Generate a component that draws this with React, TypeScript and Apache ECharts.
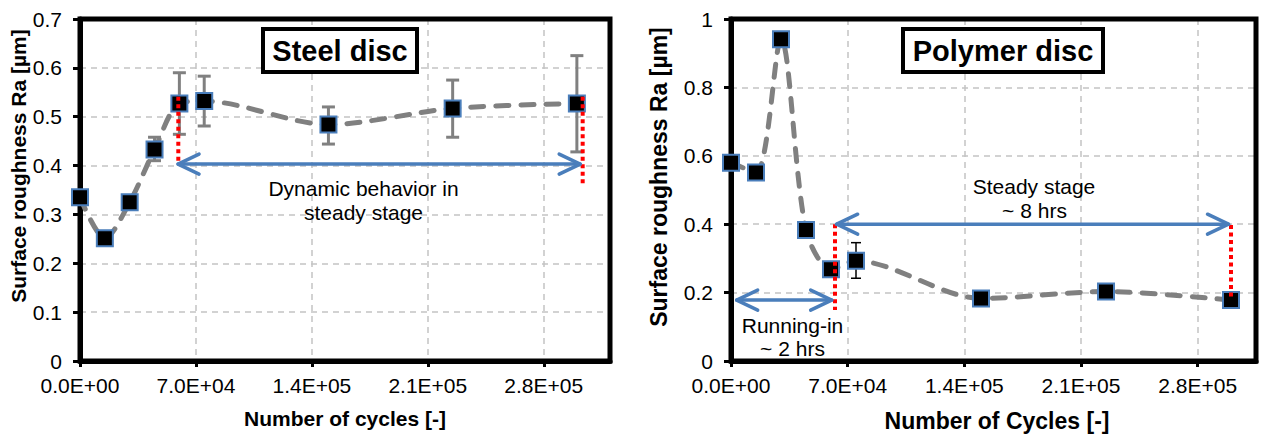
import React, { useEffect, useRef } from "react";
import * as echarts from "echarts";

const FONT = "'Liberation Sans', Arial, sans-serif";

// ---- data ----
const cycles = [0, 15000, 30000, 45000, 60000, 75000, 150000, 225000, 300000];
const steelRa = [0.335, 0.251, 0.325, 0.433, 0.527, 0.532, 0.484, 0.517, 0.527];
// [cycles, low, high]
const steelErr = [
  [45000, 0.41, 0.458],
  [60000, 0.464, 0.59],
  [75000, 0.481, 0.583],
  [150000, 0.444, 0.52],
  [225000, 0.458, 0.575],
  [300000, 0.428, 0.625],
];
const polymerRa = [0.58, 0.551, 0.941, 0.383, 0.268, 0.293, 0.183, 0.203, 0.178];
const polymerErr = [[75000, 0.242, 0.346]];

// red dotted markers: [cycles, yTop, yBottom]
const steelDotted = [
  [59350, 0.541, 0.405],
  [303500, 0.541, 0.357],
];
const polymerDotted = [
  [62400, 0.4, 0.149],
  [300000, 0.398, 0.178],
];
// double arrows: [fromCycles, toCycles, y]
const steelArrows = [[59200, 302000, 0.403]];
const polymerArrows = [
  [63400, 298500, 0.4],
  [3400, 60400, 0.178],
];

const xStep = 70000;
const steelYMax = 0.7;
const steelYStep = 0.1;
const polymerYMax = 1;
const polymerYStep = 0.2;
const steelXMax = 320000;
const polymerXMax = 315000;

const sci = (v: number) => {
  if (v === 0) return "0.0E+00";
  const e = Math.floor(Math.log10(v) + 1e-9);
  const m = v / Math.pow(10, e);
  return m.toFixed(1) + "E+" + String(e).padStart(2, "0");
};

const errRender = (color: string, lw: number, cap: number) => (params: any, api: any) => {
  const x = api.value(0);
  const lo = api.value(1);
  const hi = api.value(2);
  const a = api.coord([x, hi]);
  const b = api.coord([x, lo]);
  const hw = cap / 2;
  const style = { stroke: color, lineWidth: lw, fill: "none" };
  return {
    type: "group",
    children: [
      { type: "line", shape: { x1: a[0], y1: a[1], x2: b[0], y2: b[1] }, style },
      { type: "line", shape: { x1: a[0] - hw, y1: a[1], x2: a[0] + hw, y2: a[1] }, style },
      { type: "line", shape: { x1: b[0] - hw, y1: b[1], x2: b[0] + hw, y2: b[1] }, style },
    ],
  };
};

const dottedRender = (params: any, api: any) => {
  const x = api.value(0);
  const a = api.coord([x, api.value(1)]);
  const b = api.coord([x, api.value(2)]);
  return {
    type: "line",
    shape: { x1: a[0], y1: a[1], x2: b[0], y2: b[1] },
    style: { stroke: "#ff0000", lineWidth: 4, lineDash: [4, 3.5], fill: "none" },
  };
};

const arrowRender = (params: any, api: any) => {
  const y = api.value(2);
  const a = api.coord([api.value(0), y]);
  const b = api.coord([api.value(1), y]);
  const L = 21;
  const H = 10;
  const style = {
    stroke: "#4a7ebb",
    lineWidth: 3.5,
    fill: "none",
    lineCap: "round",
    lineJoin: "round",
  };
  return {
    type: "group",
    children: [
      { type: "line", shape: { x1: a[0], y1: a[1], x2: b[0], y2: b[1] }, style },
      {
        type: "polyline",
        shape: { points: [[a[0] + L, a[1] - H], [a[0], a[1]], [a[0] + L, a[1] + H]] },
        style,
      },
      {
        type: "polyline",
        shape: { points: [[b[0] - L, b[1] - H], [b[0], b[1]], [b[0] - L, b[1] + H]] },
        style,
      },
    ],
  };
};

const makeX = (gridIndex: number, max: number) => ({
  type: "value",
  gridIndex,
  min: 0,
  max,
  interval: xStep,
  axisLine: { show: true, onZero: false, lineStyle: { color: "#000", width: 5 } },
  axisTick: { show: true, length: 6, lineStyle: { color: "#000", width: 3 } },
  axisLabel: {
    showMaxLabel: false,
    formatter: (v: number) => (Math.abs(v % xStep) < 1e-6 ? sci(v) : ""),
    color: "#000",
    fontFamily: FONT,
    fontSize: 21,
    margin: 14,
  },
  splitLine: { show: true, lineStyle: { color: "#c3c3c3", width: 1.5, type: [6, 5] } },
});

const makeY = (gridIndex: number, max: number, step: number) => ({
  type: "value",
  gridIndex,
  min: 0,
  max,
  interval: step,
  axisLine: { show: true, lineStyle: { color: "#000", width: 5 } },
  axisTick: { show: true, length: 7, lineStyle: { color: "#000", width: 3 } },
  axisLabel: { color: "#000", fontFamily: FONT, fontSize: 21, margin: 18 },
  splitLine: { show: true, lineStyle: { color: "#c3c3c3", width: 1.5, type: [6, 5] } },
});

const lineSeries = (idx: number, ys: number[]) => ({
  type: "line",
  xAxisIndex: idx,
  yAxisIndex: idx,
  data: cycles.map((c, i) => [c, ys[i]]),
  smooth: 0.3,
  clip: false,
  z: 3,
  symbol: "rect",
  symbolSize: 16,
  lineStyle: { color: "#808080", width: 5, type: [13, 12], cap: "round" },
  itemStyle: { color: "#000", borderColor: "#4a7ebb", borderWidth: 2 },
});

const titleBox = (x: number, w: number, text: string) => [
  {
    type: "rect",
    z: 50,
    shape: { x, y: 29, width: w, height: 43 },
    style: { fill: "#fff", stroke: "#000", lineWidth: 4 },
  },
  {
    type: "text",
    z: 51,
    x: x + w / 2,
    y: 51,
    style: {
      text,
      fill: "#000",
      font: `bold 29px ${FONT}`,
      align: "center",
      verticalAlign: "middle",
    },
  },
];

const frame = (x: number, w: number) => ({
  type: "rect",
  z: 1,
  silent: true,
  shape: { x, y: 19, width: w, height: 342 },
  style: { fill: "none", stroke: "#000", lineWidth: 5 },
});

// covers the extra axis tick that ECharts adds at the axis max
const tickMask = (x: number) => ({
  type: "rect",
  z: 1,
  silent: true,
  shape: { x: x - 3, y: 364, width: 6, height: 6 },
  style: { fill: "#fff" },
});

const label = (x: number, y: number, text: string, size = 21, bold = false, rot = 0) => ({
  type: "text",
  z: 50,
  x,
  y,
  rotation: rot,
  style: {
    text,
    fill: "#000",
    font: `${bold ? "bold " : ""}${size}px ${FONT}`,
    align: "center",
    verticalAlign: "middle",
  },
});

export default function App() {
  const ref = useRef<HTMLDivElement>(null);
  useEffect(() => {
    if (!ref.current) return;
    const chart = echarts.init(ref.current, undefined, { renderer: "svg" });
    chart.setOption({
      animation: false,
      backgroundColor: "#fff",
      grid: [
        { left: 80, top: 19, width: 530, height: 342 },
        { left: 731, top: 19, width: 525, height: 342 },
      ],
      xAxis: [makeX(0, steelXMax), makeX(1, polymerXMax)],
      yAxis: [makeY(0, steelYMax, steelYStep), makeY(1, polymerYMax, polymerYStep)],
      series: [
        {
          type: "custom",
          xAxisIndex: 0,
          yAxisIndex: 0,
          z: 2,
          renderItem: errRender("#808080", 3, 13),
          encode: { x: 0, y: [1, 2] },
          data: steelErr,
        },
        lineSeries(0, steelRa),
        {
          type: "custom",
          xAxisIndex: 0,
          yAxisIndex: 0,
          z: 5,
          renderItem: dottedRender,
          encode: { x: 0, y: [1, 2] },
          data: steelDotted,
        },
        {
          type: "custom",
          xAxisIndex: 0,
          yAxisIndex: 0,
          z: 5,
          renderItem: arrowRender,
          encode: { x: [0, 1], y: 2 },
          data: steelArrows,
        },
        {
          type: "custom",
          xAxisIndex: 1,
          yAxisIndex: 1,
          z: 2,
          renderItem: errRender("#000", 1.5, 10),
          encode: { x: 0, y: [1, 2] },
          data: polymerErr,
        },
        lineSeries(1, polymerRa),
        {
          type: "custom",
          xAxisIndex: 1,
          yAxisIndex: 1,
          z: 5,
          renderItem: dottedRender,
          encode: { x: 0, y: [1, 2] },
          data: polymerDotted,
        },
        {
          type: "custom",
          xAxisIndex: 1,
          yAxisIndex: 1,
          z: 5,
          renderItem: arrowRender,
          encode: { x: [0, 1], y: 2 },
          data: polymerArrows,
        },
      ],
      graphic: [
        frame(80, 530),
        frame(731, 525),
        tickMask(610),
        tickMask(1256),
        ...titleBox(263, 154, "Steel disc"),
        ...titleBox(903, 200, "Polymer disc"),
        label(363.5, 188, "Dynamic behavior in"),
        label(363.5, 212, "steady stage"),
        label(1034, 186, "Steady stage"),
        label(1034.5, 210, "~ 8 hrs"),
        label(792.5, 325, "Running-in"),
        label(792.5, 348, "~ 2 hrs"),
        label(18, 166, "Surface roughness Ra [µm]", 21, true, Math.PI / 2),
        label(659, 177, "Surface roughness Ra [µm]", 23, true, Math.PI / 2),
        label(345, 418, "Number of cycles [-]", 21, true),
        label(997, 421, "Number of Cycles [-]", 23, true),
      ],
    });
    return () => chart.dispose();
  }, []);
  return (
    <div
      ref={ref}
      style={{ position: "fixed", left: 0, top: 0, width: 1264, height: 434 }}
    />
  );
}
